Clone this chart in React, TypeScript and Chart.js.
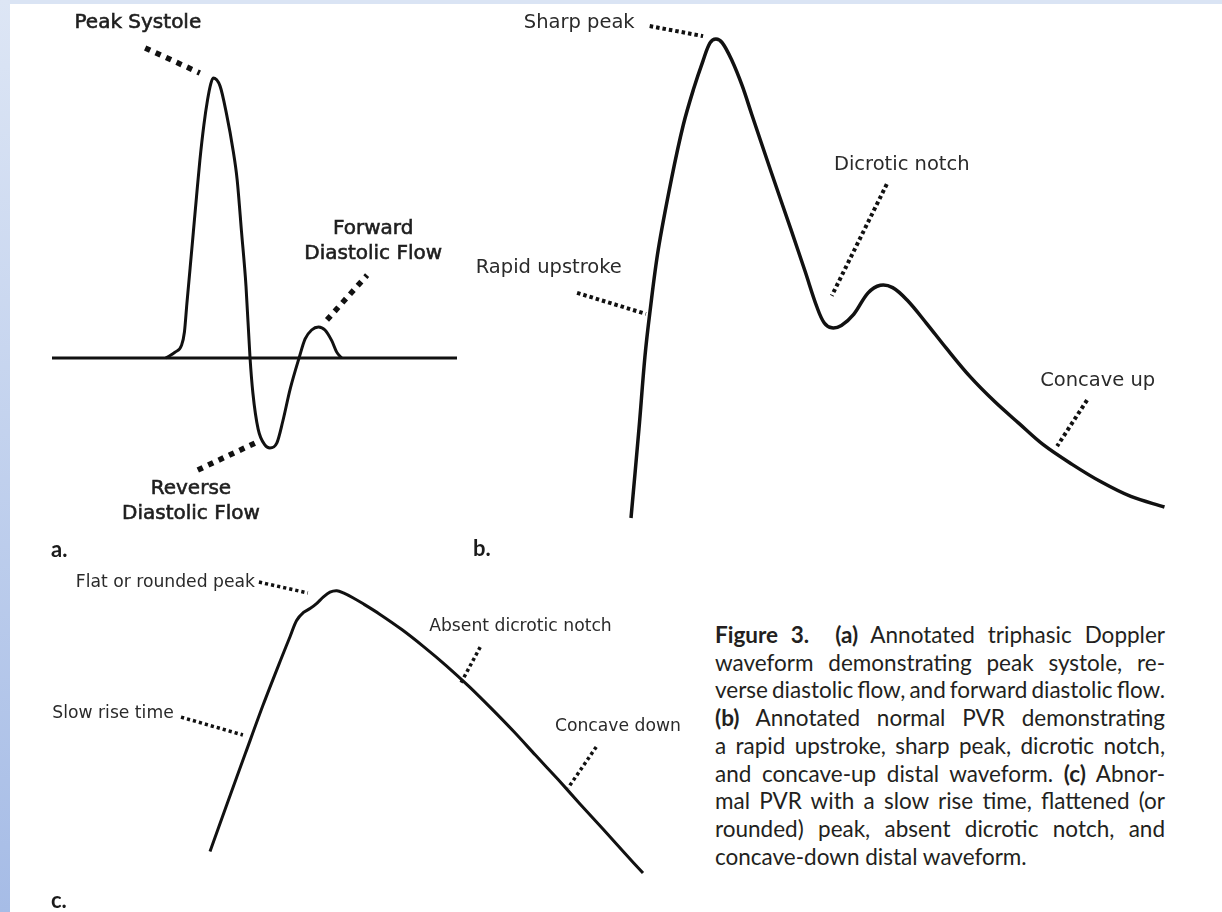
import React, { useEffect, useRef } from "react";
import { Chart, registerables } from "chart.js";

Chart.register(...registerables);

// ---------- Panel a: triphasic Doppler waveform (time %, velocity % of peak systole) ----------
const A_BASELINE_T = [0, 100];
const A_BASELINE_V = [0, 0];
const A_WAVE_T = [28.1, 30.4, 32.0, 32.7, 33.3, 34.1, 34.9, 35.7, 36.5, 37.5, 38.4, 39.2, 39.8, 41.5, 43.1, 44.7, 45.7, 46.8, 47.9, 48.9, 49.6, 50.9, 52.6, 53.8, 55.5, 57.0, 58.8, 61.0, 62.5, 64.1, 65.8, 67.4, 69.1, 70.3, 71.5];
const A_WAVE_V = [0, 2.1, 4.6, 9.3, 19.3, 32.1, 45.0, 57.9, 70.4, 83.2, 92.1, 97.9, 100, 97.1, 87.1, 74.3, 63.9, 45.0, 25.7, 0, -12.5, -25.4, -31.1, -32.1, -30.4, -22.5, -11.1, 0, 6.8, 10.0, 11.1, 10.0, 6.1, 2.1, 0];
const A_LEAD_PEAK_T = [23.0, 36.5];
const A_LEAD_PEAK_V = [110.7, 101.8];
const A_LEAD_FWD_T = [67.9, 77.8];
const A_LEAD_FWD_V = [13.6, 29.6];
const A_LEAD_REV_T = [36.0, 50.1];
const A_LEAD_REV_V = [-40.0, -30.4];
const A_LABEL_TEXT = ["Peak Systole", "Forward", "Diastolic Flow", "Reverse", "Diastolic Flow"];
const A_LABEL_T = [21.2, 79.3, 79.3, 34.3, 34.3];
const A_LABEL_V = [119.6, 46.1, 37.1, -46.8, -55.7];

// ---------- Panel b: normal PVR ----------
const B_WAVE_T = [0, 1.5, 2.6, 3.5, 5.1, 7.6, 9.8, 11.7, 13.5, 14.8, 15.9, 17.1, 18.9, 20.8, 22.6, 26.2, 29.9, 32.6, 34.8, 36.2, 37.6, 39.4, 41.7, 44.4, 46.7, 49.0, 51.7, 55.3, 59.0, 63.5, 68.1, 72.6, 77.2, 82.6, 88.1, 93.6, 99.9];
const B_WAVE_V = [0, 18.7, 33.6, 42.6, 56.0, 70.9, 82.1, 89.5, 95.5, 99.2, 100, 99.2, 95.5, 90.3, 84.3, 72.4, 60.4, 51.5, 44.1, 40.7, 39.7, 40.2, 42.5, 47.0, 48.6, 48.1, 45.5, 40.7, 35.5, 29.5, 24.3, 19.8, 15.3, 11.2, 7.5, 4.5, 2.3];
const B_LEAD_SHARP_T = [3.5, 13.5];
const B_LEAD_SHARP_V = [102.7, 100.6];
const B_LEAD_RAPID_T = [-10.1, 2.8];
const B_LEAD_RAPID_V = [47.0, 42.6];
const B_LEAD_NOTCH_T = [47.9, 37.6];
const B_LEAD_NOTCH_V = [69.7, 46.4];
const B_LEAD_CONC_T = [85.4, 79.8];
const B_LEAD_CONC_V = [24.6, 15.0];
const B_LABEL_TEXT = ["Sharp peak", "Rapid upstroke", "Dicrotic notch", "Concave up"];
const B_LABEL_T = [-9.7, -15.4, 50.7, 87.4];
const B_LABEL_V = [103.3, 52.2, 73.7, 28.6];

// ---------- Panel c: abnormal PVR ----------
const C_WAVE_T = [0, 4.1, 8.2, 12.3, 16.5, 18.5, 20.0, 21.6, 23.1, 24.6, 26.2, 27.7, 29.3, 30.8, 33.1, 35.4, 39.1, 44.3, 49.4, 54.6, 59.8, 64.9, 70.1, 75.2, 80.4, 85.5, 90.7, 95.8, 100];
const C_WAVE_V = [6.6, 24.4, 41.9, 59.3, 76.0, 83.7, 89.4, 92.3, 93.7, 95.5, 97.9, 99.6, 100.1, 99.3, 97.5, 95.4, 91.8, 86.2, 80.0, 73.2, 65.8, 58.0, 49.7, 41.1, 32.4, 23.6, 14.8, 6.0, -1.1];
const C_LEAD_FLAT_T = [11.3, 22.6];
const C_LEAD_FLAT_V = [103.2, 99.3];
const C_LEAD_ABSENT_T = [62.4, 57.7];
const C_LEAD_ABSENT_V = [79.9, 66.3];
const C_LEAD_SLOW_T = [-6.7, 7.6];
const C_LEAD_SLOW_V = [54.8, 48.4];
const C_LEAD_CONC_T = [89.2, 82.7];
const C_LEAD_CONC_V = [44.1, 29.4];
const C_LABEL_TEXT = ["Flat or rounded peak", "Absent dicrotic notch", "Slow rise time", "Concave down"];
const C_LABEL_T = [-10.3, 71.7, -22.4, 94.2];
const C_LABEL_V = [103.2, 87.1, 55.9, 51.3];

const CAPTION_LINES: { parts: [string, boolean][]; last?: boolean }[] = [
  { parts: [["Figure 3.", true], ["\u00a0\u00a0", false], ["(a)", true], [" Annotated triphasic Doppler", false]] },
  { parts: [["waveform demonstrating peak systole, re-", false]] },
  { parts: [["verse diastolic flow, and forward diastolic flow.", false]] },
  { parts: [["(b)", true], [" Annotated normal PVR demonstrating", false]] },
  { parts: [["a rapid upstroke, sharp peak, dicrotic notch,", false]] },
  { parts: [["and concave-up distal waveform. ", false], ["(c)", true], [" Abnor-", false]] },
  { parts: [["mal PVR with a slow rise time, flattened (or", false]] },
  { parts: [["rounded) peak, absent dicrotic notch, and", false]] },
  { parts: [["concave-down distal waveform.", false]], last: true },
];

const pts = (t: number[], v: number[]) => t.map((x, i) => ({ x, y: v[i] }));

const labelPlugin = {
  id: "panelLabels",
  afterDatasetsDraw(chart: any, _args: any, opts: any) {
    const { ctx } = chart;
    ctx.save();
    ctx.font = opts.font;
    ctx.fillStyle = opts.color;
    ctx.strokeStyle = opts.color;
    ctx.lineWidth = opts.stroke || 0;
    ctx.textAlign = "center";
    ctx.textBaseline = "middle";
    opts.text.forEach((s: string, i: number) => {
      const x = chart.scales.x.getPixelForValue(opts.t[i]);
      const y = chart.scales.y.getPixelForValue(opts.v[i]);
      ctx.fillText(s, x, y);
      if (opts.stroke) ctx.strokeText(s, x, y);
    });
    ctx.restore();
  },
};

type Frame = { left: number; top: number; width: number; height: number; ox: number; oy: number; sx: number; sy: number };

function Panel(props: {
  frame: Frame;
  wave: { x: number; y: number }[];
  waveWidth: number;
  smooth: "monotone" | number;
  extra?: { x: number; y: number }[][];
  leaders: { x: number; y: number }[][];
  dash: number[];
  dashWidth: number;
  labelText: string[];
  labelT: number[];
  labelV: number[];
  font: string;
  color: string;
  stroke?: number;
}) {
  const ref = useRef<HTMLCanvasElement>(null);
  useEffect(() => {
    const f = props.frame;
    const xmin = (f.left - f.ox) / f.sx;
    const xmax = (f.left + f.width - f.ox) / f.sx;
    const ymax = (f.oy - f.top) / f.sy;
    const ymin = (f.oy - (f.top + f.height)) / f.sy;
    const datasets: any[] = [];
    (props.extra || []).forEach((d) =>
      datasets.push({ data: d, borderColor: "#111", borderWidth: 3, pointRadius: 0, tension: 0, clip: false })
    );
    const waveDs: any = {
      data: props.wave,
      borderColor: "#111",
      borderWidth: props.waveWidth,
      pointRadius: 0,
      borderJoinStyle: "round",
      clip: false,
    };
    if (props.smooth === "monotone") waveDs.cubicInterpolationMode = "monotone";
    else waveDs.tension = props.smooth;
    datasets.push(waveDs);
    props.leaders.forEach((d) =>
      datasets.push({
        data: d,
        borderColor: "#111",
        borderWidth: props.dashWidth,
        borderDash: props.dash,
        borderCapStyle: "butt",
        pointRadius: 0,
        tension: 0,
        clip: false,
      })
    );
    const chart = new Chart(ref.current as HTMLCanvasElement, {
      type: "line",
      data: { datasets },
      options: {
        animation: false,
        responsive: false,
        layout: { padding: 0 },
        events: [],
        scales: {
          x: { type: "linear", min: xmin, max: xmax, display: false },
          y: { type: "linear", min: ymin, max: ymax, display: false },
        },
        plugins: {
          legend: { display: false },
          tooltip: { enabled: false },
          panelLabels: {
            text: props.labelText,
            t: props.labelT,
            v: props.labelV,
            font: props.font,
            color: props.color,
            stroke: props.stroke,
          },
        } as any,
      },
      plugins: [labelPlugin],
    });
    return () => chart.destroy();
  }, []);
  const f = props.frame;
  return (
    <canvas
      ref={ref}
      width={f.width}
      height={f.height}
      style={{ position: "absolute", left: f.left, top: f.top, width: f.width, height: f.height }}
    />
  );
}

const FRAME_A: Frame = { left: 14, top: 4, width: 470, height: 540, ox: 52, oy: 358, sx: 4.05, sy: 2.8 };
const FRAME_B: Frame = { left: 460, top: 4, width: 762, height: 540, ox: 631, oy: 518, sx: 5.34, sy: 4.79 };
const FRAME_C: Frame = { left: 14, top: 556, width: 690, height: 330, ox: 210, oy: 870, sx: 4.33, sy: 2.79 };

export default function App() {
  const letter: React.CSSProperties = {
    position: "absolute",
    fontFamily: "Lato, 'Open Sans', sans-serif",
    fontWeight: 700,
    fontSize: 22,
    lineHeight: "22px",
    color: "#1a1a1a",
  };
  return (
    <div
      style={{
        position: "fixed",
        left: 0,
        top: 0,
        width: 1222,
        height: 912,
        background: "#ffffff",
        overflow: "hidden",
      }}
    >
      <div style={{ position: "absolute", left: 0, top: 0, width: 1222, height: 4, background: "#dae4f4" }} />
      <div
        style={{
          position: "absolute",
          left: 0,
          top: 0,
          width: 10,
          height: 912,
          background: "linear-gradient(#dde6f5, #a6bce6)",
        }}
      />
      <Panel
        frame={FRAME_A}
        wave={pts(A_WAVE_T, A_WAVE_V)}
        waveWidth={3}
        smooth="monotone"
        extra={[pts(A_BASELINE_T, A_BASELINE_V)]}
        leaders={[pts(A_LEAD_PEAK_T, A_LEAD_PEAK_V), pts(A_LEAD_FWD_T, A_LEAD_FWD_V), pts(A_LEAD_REV_T, A_LEAD_REV_V)]}
        dash={[5.5, 6]}
        dashWidth={5.5}
        labelText={A_LABEL_TEXT}
        labelT={A_LABEL_T}
        labelV={A_LABEL_V}
        font="20px 'DejaVu Sans'"
        color="#1e1e1e"
        stroke={0.6}
      />
      <Panel
        frame={FRAME_B}
        wave={pts(B_WAVE_T, B_WAVE_V)}
        waveWidth={3.5}
        smooth={0.35}
        leaders={[
          pts(B_LEAD_SHARP_T, B_LEAD_SHARP_V),
          pts(B_LEAD_RAPID_T, B_LEAD_RAPID_V),
          pts(B_LEAD_NOTCH_T, B_LEAD_NOTCH_V),
          pts(B_LEAD_CONC_T, B_LEAD_CONC_V),
        ]}
        dash={[3.5, 3]}
        dashWidth={4}
        labelText={B_LABEL_TEXT}
        labelT={B_LABEL_T}
        labelV={B_LABEL_V}
        font="19.5px 'DejaVu Sans'"
        color="#2a2a2a"
      />
      <Panel
        frame={FRAME_C}
        wave={pts(C_WAVE_T, C_WAVE_V)}
        waveWidth={3}
        smooth={0.3}
        leaders={[
          pts(C_LEAD_FLAT_T, C_LEAD_FLAT_V),
          pts(C_LEAD_ABSENT_T, C_LEAD_ABSENT_V),
          pts(C_LEAD_SLOW_T, C_LEAD_SLOW_V),
          pts(C_LEAD_CONC_T, C_LEAD_CONC_V),
        ]}
        dash={[3.2, 3]}
        dashWidth={3.5}
        labelText={C_LABEL_TEXT}
        labelT={C_LABEL_T}
        labelV={C_LABEL_V}
        font="17.2px 'DejaVu Sans'"
        color="#2a2a2a"
      />
      <div style={{ ...letter, left: 51, top: 538 }}>a.</div>
      <div style={{ ...letter, left: 473, top: 537 }}>b.</div>
      <div style={{ ...letter, left: 51, top: 889 }}>c.</div>
      <div
        style={{
          position: "absolute",
          left: 715,
          top: 621,
          width: 450,
          fontFamily: "Lato, 'Open Sans', sans-serif",
          fontSize: 22.5,
          lineHeight: "27.7px",
          color: "#231f20",
        }}
      >
        {CAPTION_LINES.map((ln, i) => (
          <div
            key={i}
            style={{
              textAlign: ln.last ? "left" : "justify",
              textAlignLast: ln.last ? "left" : "justify",
              whiteSpace: "nowrap",
              wordSpacing: ln.last ? 0 : -2.5,
            }}
          >
            {ln.parts.map(([s, b], j) => (
              <span key={j} style={{ fontWeight: b ? 700 : 400 }}>
                {s}
              </span>
            ))}
          </div>
        ))}
      </div>
    </div>
  );
}
